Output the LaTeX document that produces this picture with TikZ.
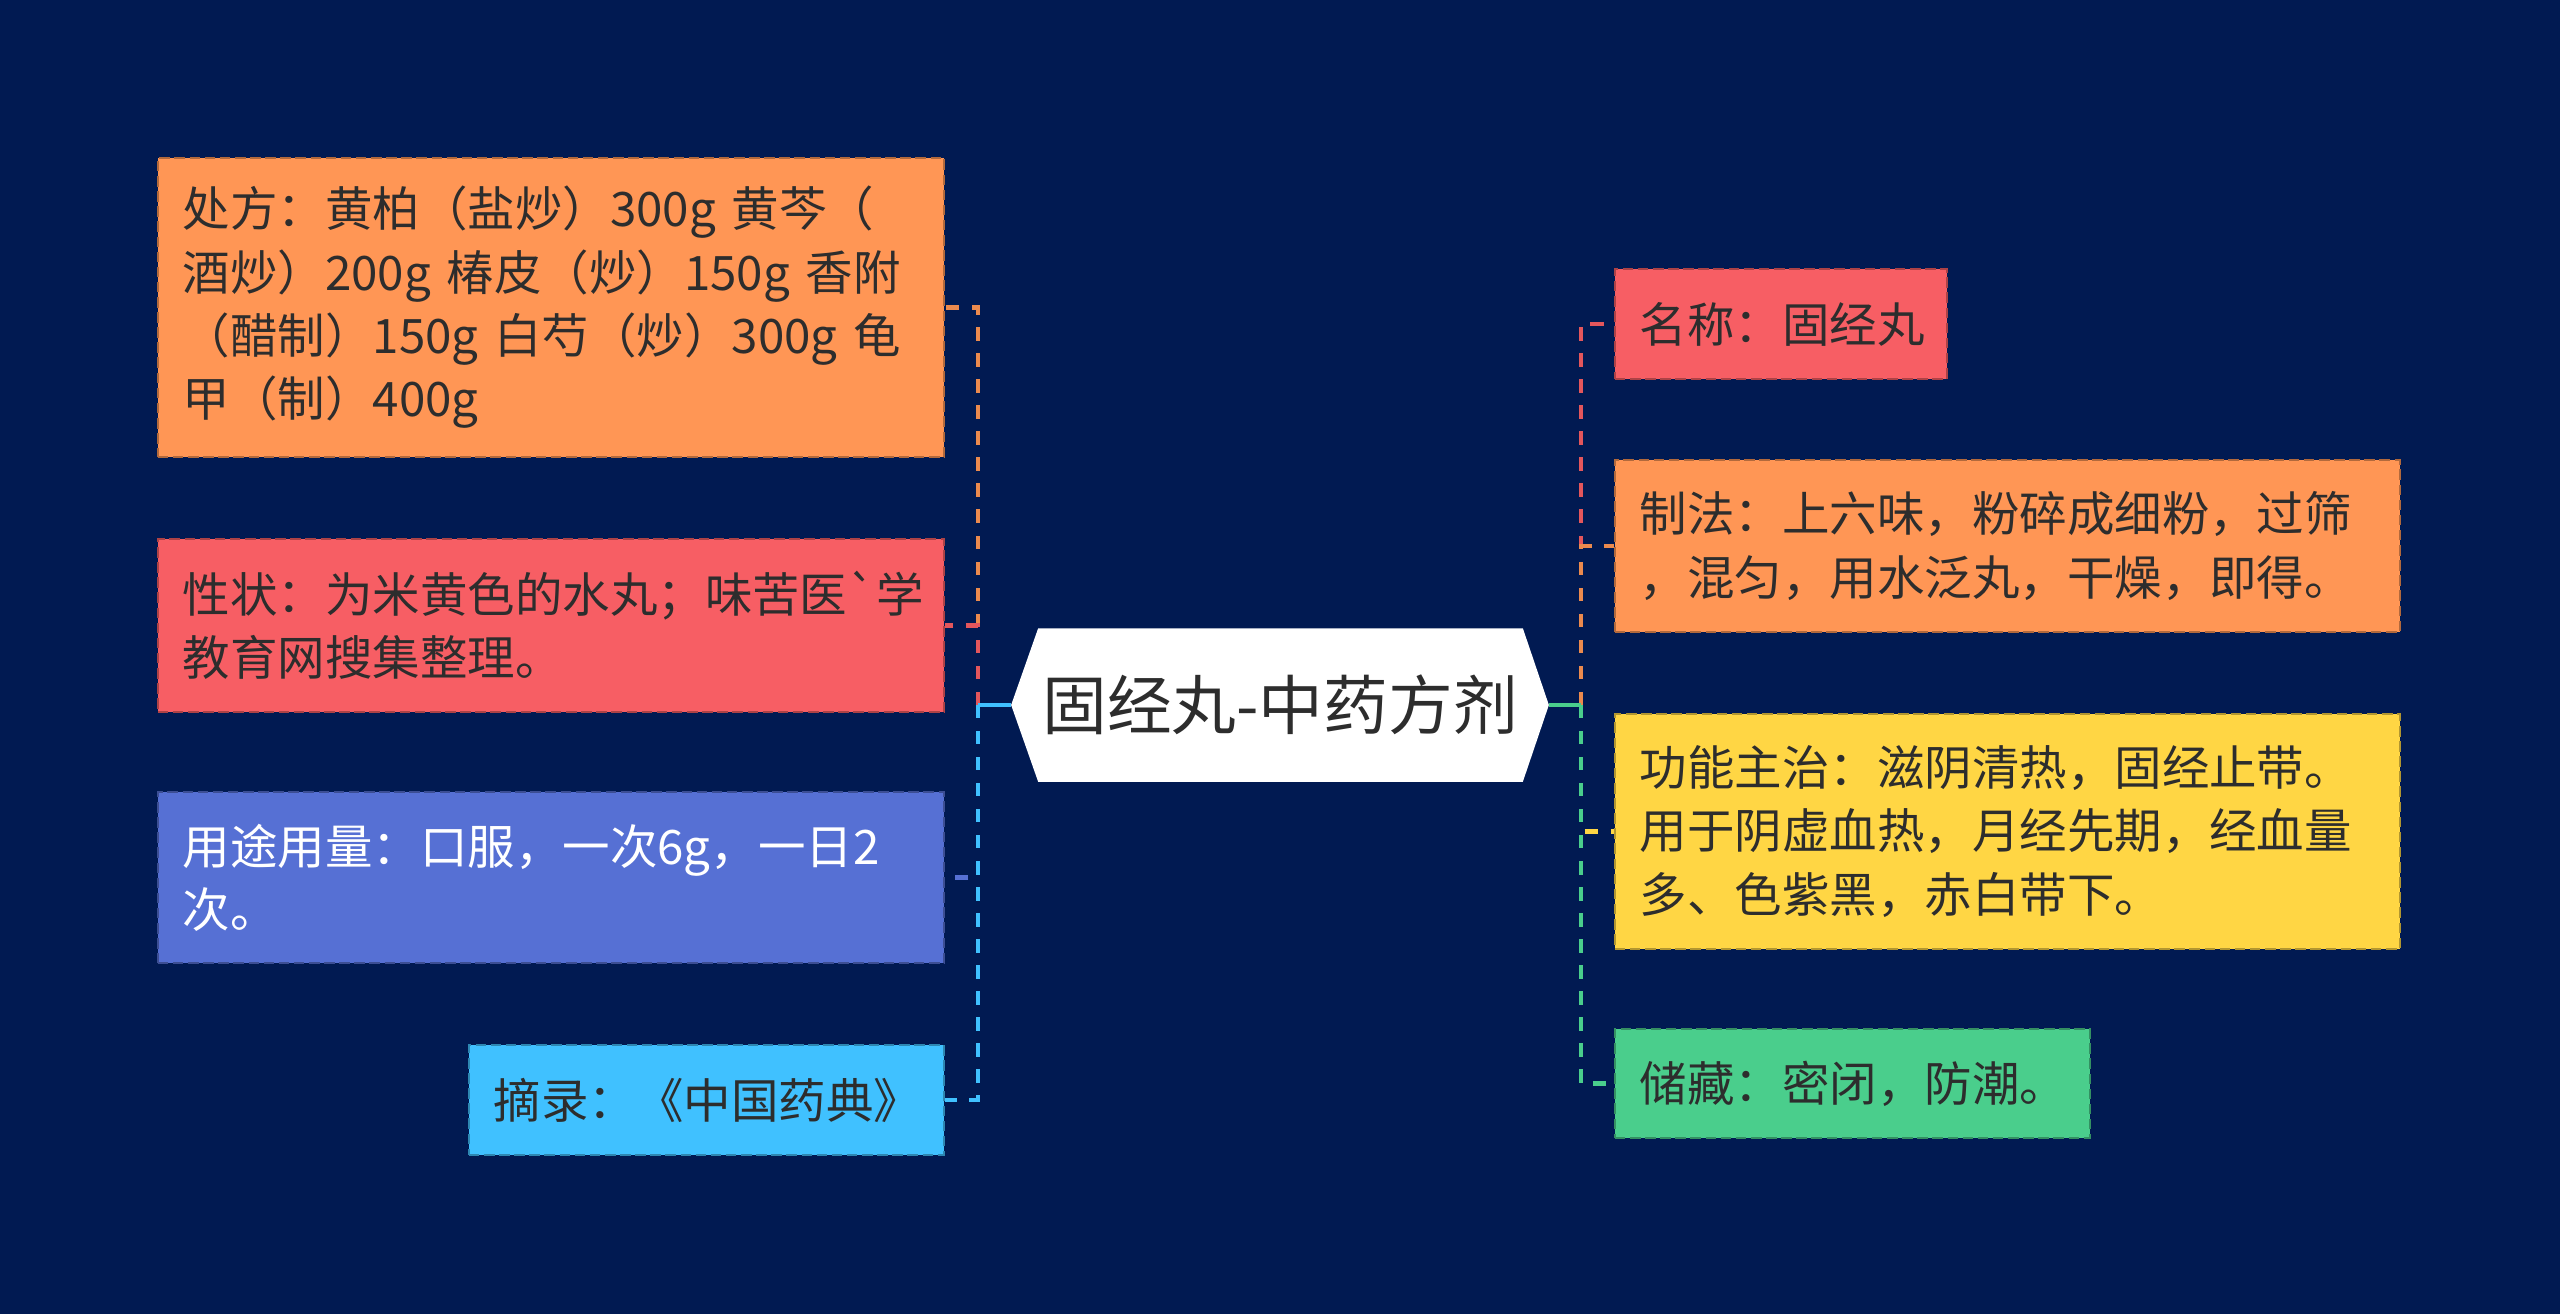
\documentclass[tikz,border=0pt]{standalone}
\usepackage{fontspec}
\newfontfamily\cjk{Noto Sans CJK SC}
\definecolor{navybg}{RGB}{1,26,82}
\definecolor{textgray}{RGB}{45,45,45}
\definecolor{cardorange}{RGB}{255,150,85}
\definecolor{cardred}{RGB}{247,94,100}
\definecolor{cardblue}{RGB}{86,112,212}
\definecolor{cardsky}{RGB}{64,193,255}
\definecolor{cardyellow}{RGB}{255,214,68}
\definecolor{cardgreen}{RGB}{74,206,140}
\usepackage{tikz}
\usetikzlibrary{backgrounds}

\begin{document}
\begin{tikzpicture}[x=0.01cm,y=-0.01cm,
    card/.style={rectangle,line width=0.6pt,dash pattern=on 3pt off 1.3pt,
      inner xsep=0.25cm,inner ysep=0pt,align=left,text=textgray,
      font=\cjk\fontsize{13.5}{18}\selectfont},
    rootnode/.style={inner sep=0pt,minimum width=5.36cm,minimum height=1.52cm,
      text=textgray,font=\cjk\fontsize{18.4}{20}\selectfont},
    link/.style={line width=1.4pt,dash pattern=on 3.8pt off 3.6pt},
    stem/.style={line width=1.4pt}]
  \useasboundingbox (0,0) rectangle (2560,1314);

  \node[rootnode] (root) at (1280,705) {固经丸-中药方剂};

  \node[card,fill=cardorange,draw=cardorange!70!black,text width=7.36cm,minimum height=2.99cm]
    (recipe) at (551,307.5)
    {处方：黄柏（盐炒）300g 黄芩（\\酒炒）200g 椿皮（炒）150g 香附\\（醋制）150g 白芍（炒）300g 龟\\甲（制）400g};
  \node[card,fill=cardred,draw=cardred!70!black,text width=7.36cm,minimum height=1.73cm]
    (looks) at (551,625.5)
    {性状：为米黄色的水丸；味苦医\textasciigrave 学\\教育网搜集整理。};
  \node[card,fill=cardblue,draw=cardblue!70!black,text=white,text width=7.36cm,minimum height=1.71cm]
    (dosage) at (551,877.5)
    {用途用量：口服，一次6g，一日2\\次。};
  \node[card,fill=cardsky,draw=cardsky!70!black,text width=4.25cm,minimum height=1.1cm]
    (source) at (706.5,1100)
    {摘录：《中国药典》};

  \node[card,fill=cardred,draw=cardred!70!black,text width=2.82cm,minimum height=1.1cm]
    (name) at (1781,324)
    {名称：固经丸};
  \node[card,fill=cardorange,draw=cardorange!70!black,text width=7.35cm,minimum height=1.72cm]
    (method) at (2007.5,546)
    {制法：上六味，粉碎成细粉，过筛\\，混匀，用水泛丸，干燥，即得。};
  \node[card,fill=cardyellow,draw=cardyellow!70!black,text width=7.35cm,minimum height=2.35cm]
    (usage) at (2007.5,831.5)
    {功能主治：滋阴清热，固经止带。\\用于阴虚血热，月经先期，经血量\\多、色紫黑，赤白带下。};
  \node[card,fill=cardgreen,draw=cardgreen!70!black,text width=4.25cm,minimum height=1.09cm]
    (storage) at (1852.5,1083.5)
    {储藏：密闭，防潮。};

  \begin{scope}[on background layer]
    \fill[navybg] (0,0) rectangle (2560,1314);
    \fill[white] (root.west) -- ([xshift=0.27cm]root.north west)
      -- ([xshift=-0.26cm]root.north east) -- (root.east)
      -- ([xshift=-0.26cm]root.south east) -- ([xshift=0.27cm]root.south west) -- cycle;
  \end{scope}

  \coordinate (lj) at (978,705);
  \coordinate (rj) at (1581,705);

  \draw[link,cardorange!92!black] (lj) |- (recipe.east);
  \draw[link,cardred!92!black] (lj) |- (looks.east);
  \draw[link,cardblue] (lj) |- (dosage.east);
  \draw[link,cardsky] (lj) |- (source.east);
  \draw[stem,cardsky] (root.west) -- (lj);

  \draw[link,cardred!92!black] (rj) |- (name.west);
  \draw[link,cardorange!92!black] (rj) |- (method.west);
  \draw[link,cardyellow] (rj) |- (usage.west);
  \draw[link,cardgreen] (rj) |- (storage.west);
  \draw[stem,cardgreen] (root.east) -- (rj);
\end{tikzpicture}
\end{document}
